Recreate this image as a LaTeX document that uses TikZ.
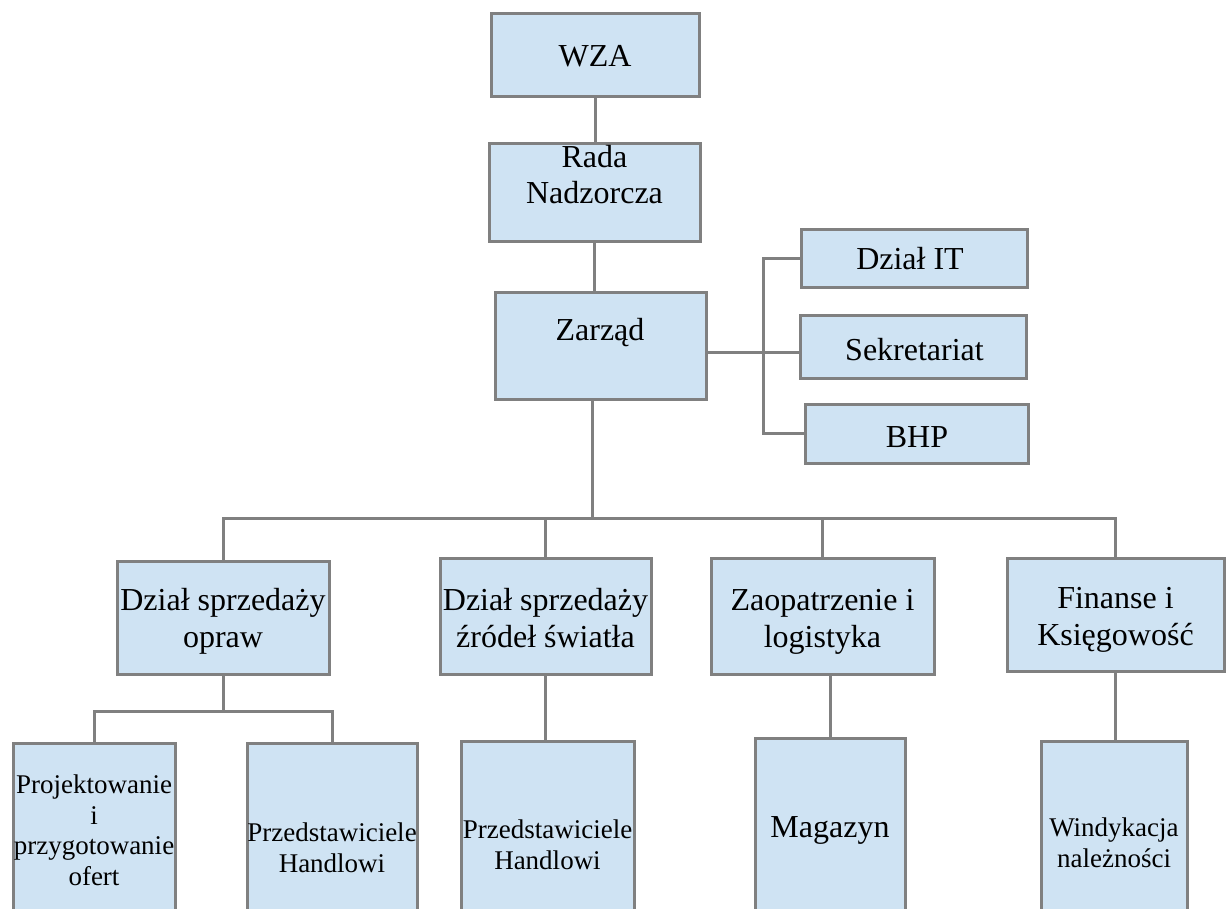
\documentclass[tikz,border=0pt]{standalone}
\usepackage{fontspec}
\setmainfont{Liberation Serif}
\definecolor{linegray}{RGB}{128,128,128}
\definecolor{boxblue}{RGB}{207,227,243}
\begin{document}
\begin{tikzpicture}[x=1pt,y=-1pt,
  box/.style={rectangle,draw=linegray,fill=boxblue,line width=3pt,inner sep=0pt},
  conn/.style={draw=linegray,line width=3pt},
  bigtxt/.style={anchor=base,align=center,inner sep=0pt,font=\fontsize{32}{36.5}\selectfont},
  smalltxt/.style={anchor=base,align=center,inner sep=0pt,font=\fontsize{27}{30.5}\selectfont}]
\useasboundingbox (0,0) rectangle (1226,909);
\clip (0,0) rectangle (1226,909);
% boxes
\node[box,minimum width=208pt,minimum height=83pt] (wza) at (595,55.5) {};
\node[box,minimum width=211pt,minimum height=98pt] (rada) at (594.5,193) {};
\node[box,minimum width=211pt,minimum height=106pt] (zarzad) at (600.5,346) {};
\node[box,minimum width=226pt,minimum height=58pt] (it) at (914,259) {};
\node[box,minimum width=226pt,minimum height=62pt] (sekr) at (913,347) {};
\node[box,minimum width=223pt,minimum height=59pt] (bhp) at (916.5,433.5) {};
\node[box,minimum width=212pt,minimum height=113pt] (opraw) at (223,617.5) {};
\node[box,minimum width=211pt,minimum height=116pt] (zrodel) at (545.5,616) {};
\node[box,minimum width=223pt,minimum height=116pt] (zaop) at (822.5,616) {};
\node[box,minimum width=217pt,minimum height=113pt] (fin) at (1115.5,614.5) {};
\node[box,minimum width=162pt,minimum height=217pt] (proj) at (94,851.5) {};
\node[box,minimum width=170pt,minimum height=217pt] (prz1) at (332,851.5) {};
\node[box,minimum width=173pt,minimum height=219pt] (prz2) at (547.5,850.5) {};
\node[box,minimum width=150pt,minimum height=222pt] (mag) at (830,849) {};
\node[box,minimum width=146pt,minimum height=219pt] (wind) at (1114,850.5) {};
% texts (anchor base = baseline of the last line)
\node[bigtxt] (wza-t) at (595,67) {WZA};
\node[bigtxt] (rada-t) at (594.5,204) {Rada\\Nadzorcza};
\node[bigtxt] (zarzad-t) at (600,340) {Zarząd};
\node[bigtxt] (it-t) at (910,270) {Dział IT};
\node[bigtxt] (sekr-t) at (914.5,360) {Sekretariat};
\node[bigtxt] (bhp-t) at (917,447) {BHP};
\node[bigtxt] (opraw-t) at (223,647) {Dział sprzedaży\\opraw};
\node[bigtxt] (zrodel-t) at (545.5,647) {Dział sprzedaży\\źródeł światła};
\node[bigtxt] (zaop-t) at (822.5,647) {Zaopatrzenie i\\logistyka};
\node[bigtxt] (fin-t) at (1115.5,645) {Finanse i\\Księgowość};
\node[smalltxt] (proj-t) at (94,885) {Projektowanie\\i\\przygotowanie\\ofert};
\node[smalltxt] (prz1-t) at (332,872) {Przedstawiciele\\Handlowi};
\node[smalltxt] (prz2-t) at (547.5,869) {Przedstawiciele\\Handlowi};
\node[bigtxt] (mag-t) at (830,837) {Magazyn};
\node[smalltxt] (wind-t) at (1114,867) {Windykacja\\należności};
% connector points
\coordinate (sbus) at (763,352);
\coordinate (mbus) at (592,518);
\coordinate (subbus) at (223,711);
% connectors
\draw[conn] (wza.south) -- (wza.south |- rada.north);
\draw[conn] (rada.south) -- (rada.south |- zarzad.north);
\draw[conn] (zarzad.east |- sbus) -- (sekr.west |- sbus);
\draw[conn] (it.west) -| (sbus) |- (bhp.west);
\draw[conn] (zarzad.south -| mbus) -- (mbus);
\draw[conn] (opraw.north) |- (mbus) -| (fin.north);
\draw[conn] (zrodel.north) -- (zrodel.north |- mbus);
\draw[conn] (zaop.north) -- (zaop.north |- mbus);
\draw[conn] (opraw.south) -- (subbus);
\draw[conn] (proj.north) |- (subbus) -| (prz1.north);
\draw[conn] (zrodel.south) -- (zrodel.south |- prz2.north);
\draw[conn] (mag.north |- zaop.south) -- (mag.north);
\draw[conn] (fin.south) -- (fin.south |- wind.north);
\end{tikzpicture}
\end{document}
